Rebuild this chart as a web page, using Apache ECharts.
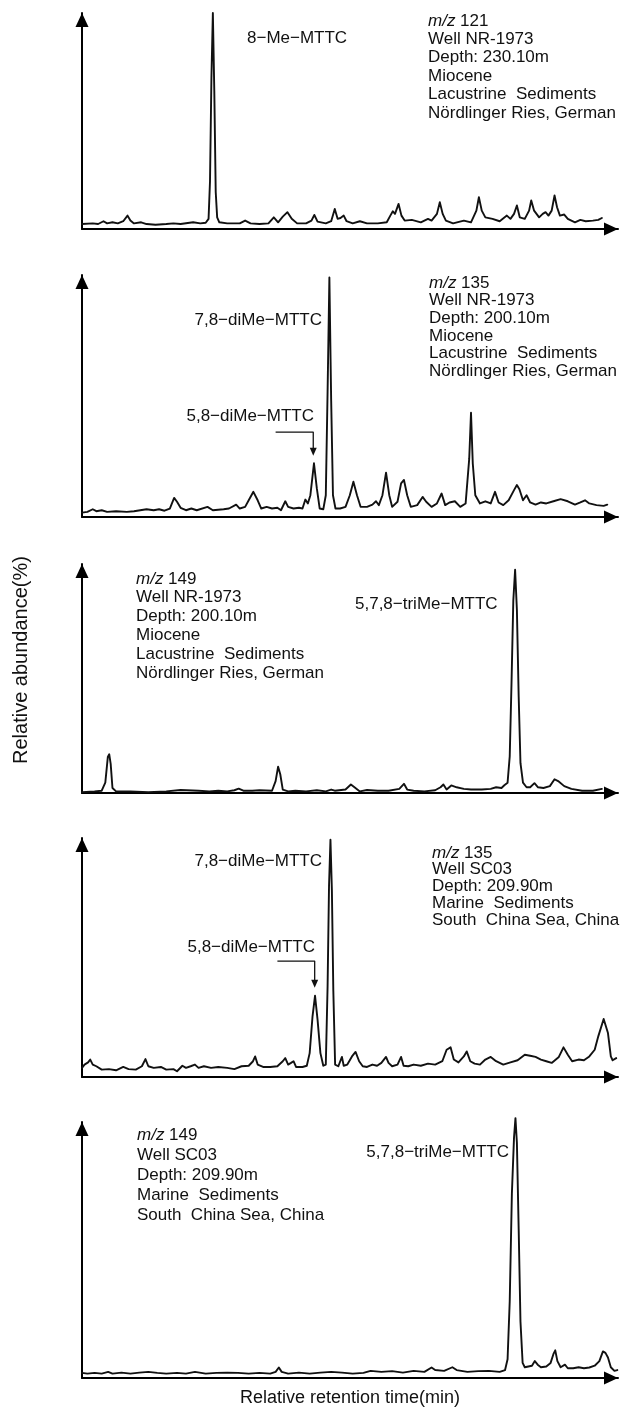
<!DOCTYPE html>
<html><head><meta charset="utf-8">
<script src="https://cdn.jsdelivr.net/npm/echarts@6/dist/echarts.min.js"></script>
<style>html,body{margin:0;padding:0;background:#fff}#c{width:621px;height:1414px}</style>
</head><body><div id="c"></div>
<script>
// ---- DATA: [relative retention, relative abundance %] ----
const trace1 = [[0,2.3],[.030,2.6],[.045,2.3],[.060,3.6],[.070,2.6],[.085,3.1],[.100,2.6],[.115,3.6],[.127,6.2],[.135,3.9],[.145,2.6],[.165,3.1],[.180,2.3],[.205,2.0],[.235,2.3],[.255,2.6],[.275,2.3],[.310,3.1],[.330,2.6],[.345,2.9],[.353,4.7],[.357,22],[.361,70],[.365,100],[.369,64],[.373,17],[.377,5.4],[.383,3.1],[.405,2.6],[.440,2.6],[.455,3.9],[.470,2.6],[.495,2.3],[.520,2.6],[.535,5.4],[.547,3.1],[.560,5.7],[.573,7.8],[.585,4.7],[.600,2.6],[.625,2.6],[.640,3.9],[.648,6.5],[.657,3.4],[.680,2.6],[.695,3.6],[.705,9.3],[.713,4.7],[.721,5.1],[.730,6.2],[.738,3.6],[.755,2.6],[.775,3.6],[.795,2.6],[.825,2.6],[.850,3.1],[.860,6.2],[.867,8.2],[.873,7.0],[.883,11.6],[.891,6.2],[.900,3.9],[.920,4.2],[.945,3.1],[.965,4.7],[.975,3.9],[.990,7.0],[.998,12.4],[1.006,7.0],[1.015,3.9],[1.035,2.6],[1.065,3.9],[1.085,3.1],[1.100,8.5],[1.107,14.7],[1.115,8.5],[1.125,5.4],[1.145,4.7],[1.165,3.6],[1.185,6.2],[1.195,4.7],[1.205,7.0],[1.213,10.9],[1.221,5.4],[1.235,4.7],[1.247,8.5],[1.253,13.2],[1.261,8.5],[1.275,5.4],[1.285,7.0],[1.293,7.8],[1.301,6.2],[1.310,8.5],[1.318,15.5],[1.325,10.1],[1.333,6.2],[1.345,6.7],[1.355,4.7],[1.375,3.1],[1.390,4.2],[1.405,3.6],[1.425,3.9],[1.440,4.2],[1.450,5.1]];

const trace2 = [[0,1.8],[.015,2.1],[.030,3.2],[.040,2.4],[.055,2.8],[.070,2.1],[.095,2.4],[.125,2.1],[.145,2.4],[.180,3.2],[.200,2.8],[.215,3.2],[.230,2.6],[.245,3.5],[.257,7.9],[.265,6.3],[.275,3.8],[.290,2.8],[.305,3.5],[.320,2.8],[.350,4.2],[.365,2.8],[.395,3.2],[.410,3.5],[.430,5.1],[.440,3.5],[.455,4.2],[.465,6.9],[.478,10.4],[.490,6.9],[.500,3.5],[.515,4.2],[.530,3.5],[.545,3.8],[.555,2.8],[.567,6.5],[.575,4.2],[.590,3.5],[.605,3.8],[.615,3.5],[.623,7.2],[.630,5.6],[.637,9.0],[.647,22.2],[.655,11.8],[.663,3.5],[.673,3.2],[.680,9.0],[.685,52],[.690,99],[.695,48],[.700,9.0],[.707,3.5],[.720,3.5],[.735,4.2],[.747,9.0],[.757,14.6],[.767,9.0],[.777,4.2],[.795,4.2],[.810,5.1],[.820,6.5],[.828,4.9],[.838,9.0],[.848,18.3],[.857,9.0],[.865,4.2],[.880,6.3],[.890,13.9],[.898,15.3],[.907,9.0],[.917,4.2],[.935,4.9],[.950,8.3],[.960,6.3],[.975,4.2],[.990,5.6],[1.003,9.7],[1.013,4.9],[1.025,6.0],[1.040,6.5],[1.055,4.2],[1.070,5.6],[1.080,24],[1.085,43.1],[1.090,22],[1.097,9.0],[1.110,5.6],[1.125,6.5],[1.140,5.6],[1.152,10.4],[1.162,6.0],[1.175,4.9],[1.190,6.9],[1.205,11.1],[1.213,13.2],[1.220,11.5],[1.230,6.9],[1.240,9.0],[1.250,6.0],[1.265,5.1],[1.280,6.0],[1.295,5.6],[1.315,6.5],[1.335,7.4],[1.355,6.5],[1.375,5.1],[1.390,6.0],[1.403,6.9],[1.415,5.6],[1.435,4.9],[1.455,4.6],[1.465,5.1]];

const trace3 = [[0,0.4],[.035,0.7],[.055,1.0],[.065,4.5],[.072,15.7],[.076,16.9],[.080,12.7],[.085,2.2],[.095,0.7],[.135,0.7],[.185,0.4],[.235,0.7],[.275,1.3],[.325,1.0],[.355,0.7],[.380,1.0],[.405,0.7],[.425,1.2],[.437,1.9],[.450,1.0],[.475,1.0],[.495,1.2],[.530,1.0],[.540,5.2],[.547,11.5],[.553,8.2],[.560,1.5],[.575,0.7],[.595,1.0],[.625,0.7],[.655,1.2],[.680,0.7],[.695,1.5],[.705,1.0],[.735,1.5],[.750,3.7],[.760,2.5],[.775,0.7],[.795,1.3],[.825,1.0],[.855,1.0],[.885,1.8],[.898,4.0],[.907,1.5],[.925,1.0],[.955,0.7],[.985,1.2],[1.000,2.5],[1.008,3.7],[1.017,1.5],[1.030,3.3],[1.045,2.5],[1.065,1.8],[1.085,1.5],[1.115,1.5],[1.140,1.8],[1.155,2.5],[1.170,2.2],[1.178,3.4],[1.187,4.5],[1.193,16],[1.198,48],[1.203,84],[1.208,97.5],[1.213,80],[1.218,42],[1.223,13],[1.230,4.5],[1.240,2.5],[1.250,2.5],[1.262,4.3],[1.272,2.5],[1.287,2.2],[1.305,3.0],[1.318,6.0],[1.328,5.2],[1.345,3.0],[1.365,1.8],[1.395,1.0],[1.425,1.0],[1.450,1.8]];

const trace4 = [[0,3.8],[.007,5.2],[.017,6.1],[.023,7.3],[.030,5.2],[.040,4.5],[.055,3.1],[.075,3.3],[.095,2.8],[.115,4.2],[.130,3.3],[.150,3.1],[.167,4.5],[.177,7.5],[.185,4.5],[.200,3.8],[.220,4.2],[.235,3.1],[.255,3.3],[.265,2.4],[.280,4.7],[.290,3.8],[.303,4.5],[.315,5.2],[.325,3.8],[.340,4.5],[.360,3.8],[.380,4.2],[.405,3.8],[.425,3.3],[.445,4.5],[.465,4.7],[.477,6.6],[.483,8.6],[.490,5.2],[.505,4.2],[.525,4.2],[.545,4.5],[.560,6.6],[.567,7.9],[.575,5.2],[.583,5.9],[.590,6.6],[.597,4.2],[.615,4.2],[.627,4.7],[.635,10.0],[.643,25.4],[.650,34.0],[.657,24.0],[.665,10.0],[.673,4.7],[.680,5.2],[.685,38],[.689,80],[.693,99.3],[.697,78],[.701,36],[.706,5.2],[.715,4.5],[.725,8.4],[.730,4.7],[.740,5.2],[.753,8.6],[.763,10.5],[.773,6.6],[.783,4.5],[.795,4.2],[.810,5.2],[.823,4.7],[.835,5.9],[.848,8.4],[.855,5.9],[.865,4.5],[.880,5.2],[.890,8.4],[.897,4.7],[.910,4.5],[.925,5.2],[.945,4.7],[.965,5.6],[.985,5.2],[1.005,6.6],[1.017,11.4],[1.028,12.4],[1.037,7.3],[1.050,6.1],[1.065,8.6],[1.073,10.7],[1.083,6.6],[1.095,5.6],[1.110,5.2],[1.125,7.3],[1.140,8.4],[1.155,6.6],[1.175,5.2],[1.195,6.1],[1.215,7.0],[1.235,9.3],[1.250,8.9],[1.265,8.4],[1.280,7.3],[1.295,6.6],[1.310,5.9],[1.330,8.4],[1.343,12.4],[1.355,9.3],[1.367,6.6],[1.385,7.3],[1.400,7.0],[1.415,8.6],[1.430,11.4],[1.440,17.0],[1.455,24.3],[1.467,18.4],[1.475,8.6],[1.480,7.0],[1.490,7.9]];

const trace5 = [[0,2.0],[.015,1.7],[.035,2.0],[.055,1.7],[.073,2.4],[.085,1.7],[.110,2.1],[.135,1.7],[.160,2.1],[.185,2.4],[.210,2.0],[.235,1.7],[.265,2.0],[.290,1.7],[.315,2.4],[.345,1.7],[.375,2.0],[.405,2.1],[.435,2.0],[.465,1.7],[.495,2.0],[.525,1.7],[.540,2.4],[.549,4.1],[.557,2.4],[.575,1.7],[.605,2.1],[.635,1.7],[.665,2.1],[.695,2.4],[.725,2.1],[.755,1.7],[.785,2.0],[.805,2.8],[.835,2.4],[.865,2.7],[.895,2.1],[.925,2.8],[.955,2.4],[.975,4.1],[.985,3.1],[1.010,2.8],[1.033,4.2],[1.045,3.1],[1.075,2.4],[1.105,2.7],[1.135,2.8],[1.165,2.4],[1.180,3.1],[1.187,7.3],[1.193,30],[1.199,72],[1.205,94],[1.209,101.5],[1.213,92],[1.218,58],[1.223,22],[1.229,5.9],[1.235,4.2],[1.245,4.5],[1.255,4.8],[1.263,6.6],[1.271,5.2],[1.280,4.2],[1.295,4.5],[1.307,5.9],[1.315,9.4],[1.320,10.8],[1.326,6.6],[1.335,4.2],[1.347,5.2],[1.355,3.8],[1.370,3.8],[1.385,4.2],[1.400,3.8],[1.415,4.1],[1.430,4.8],[1.443,6.6],[1.453,10.4],[1.460,9.8],[1.467,8.0],[1.475,4.2],[1.485,2.8],[1.493,3.1]];

// annotation arrows (5,8-diMe-MTTC), in data units
const pointer2 = [[.540,35.1],[.645,35.1],[.645,27]];
const pointer4 = [[.545,48.5],[.649,48.5],[.649,39]];

// text content
const info1 = ['121','Well NR-1973','Depth: 230.10m','Miocene','Lacustrine  Sediments','Nördlinger Ries, German'];
const info2 = ['135','Well NR-1973','Depth: 200.10m','Miocene','Lacustrine  Sediments','Nördlinger Ries, German'];
const info3 = ['149','Well NR-1973','Depth: 200.10m','Miocene','Lacustrine  Sediments','Nördlinger Ries, German'];
const info4 = ['135','Well SC03','Depth: 209.90m','Marine  Sediments','South  China Sea, China'];
const info5 = ['149','Well SC03','Depth: 209.90m','Marine  Sediments','South  China Sea, China'];
const yTitle = 'Relative abundance(%)';
const xTitle = 'Relative retention time(min)';

// ---- LAYOUT ----
const FONT = '"Liberation Sans", Arial, Helvetica, sans-serif';
const FS = 17;
const panels = [
  {top:13,  bottom:229,  trace:trace1, info:info1, infoX:428, infoY:21,  step:18.4,
   labels:[{t:'8−Me−MTTC', x:247, y:38, a:'left'}]},
  {top:275, bottom:517,  trace:trace2, info:info2, infoX:429, infoY:283, step:17.7, pointer:pointer2,
   labels:[{t:'7,8−diMe−MTTC', x:322, y:320, a:'right'},{t:'5,8−diMe−MTTC', x:314, y:416, a:'right'}]},
  {top:564, bottom:793,  trace:trace3, info:info3, infoX:136, infoY:579, step:18.8,
   labels:[{t:'5,7,8−triMe−MTTC', x:355, y:604, a:'left'}]},
  {top:838, bottom:1077, trace:trace4, info:info4, infoX:432, infoY:853, step:16.8, pointer:pointer4,
   labels:[{t:'7,8−diMe−MTTC', x:322, y:861, a:'right'},{t:'5,8−diMe−MTTC', x:315, y:947, a:'right'}]},
  {top:1122,bottom:1378, trace:trace5, info:info5, infoX:137, infoY:1135, step:20,
   labels:[{t:'5,7,8−triMe−MTTC', x:509, y:1152, a:'right'}]}
];

const grid=[], xAxis=[], yAxis=[], series=[], graphic=[];
const axisLineStyle = {color:'#000', width:2};
panels.forEach((p,i)=>{
  grid.push({left:82, right:3, top:p.top, height:p.bottom-p.top, containLabel:false});
  xAxis.push({type:'value', gridIndex:i, min:0, max:1.495, axisLabel:{show:false}, axisTick:{show:false}, splitLine:{show:false},
    axisLine:{show:true, onZero:false, lineStyle:axisLineStyle, symbol:['none','triangle'], symbolSize:[13,14], symbolOffset:[0,-7]}});
  yAxis.push({type:'value', gridIndex:i, min:0, max:100, axisLabel:{show:false}, axisTick:{show:false}, splitLine:{show:false},
    axisLine:{show:true, onZero:false, lineStyle:axisLineStyle, symbol:['none','triangle'], symbolSize:[13,14], symbolOffset:[0,-7]}});
  series.push({type:'line', xAxisIndex:i, yAxisIndex:i, data:p.trace, symbol:'none', clip:false,
    smooth:false, lineStyle:{color:'#111', width:1.9, join:'round', cap:'round'}, silent:true});
  if(p.pointer){
    const d = p.pointer.map((v,k)=> k===p.pointer.length-1 ?
      {value:v, symbol:'path://M0,0 L10,0 L5,11 Z', symbolSize:[7,8], itemStyle:{color:'#111'}} : {value:v});
    series.push({type:'line', xAxisIndex:i, yAxisIndex:i, data:d, symbol:'none', showSymbol:true, clip:false,
      lineStyle:{color:'#111', width:1.3}, itemStyle:{color:'#111'}, silent:true, z:3});
  }
  p.info.forEach((line,k)=>{
    const txt = k===0 ? '{i|m/z} ' + line : line;
    graphic.push({type:'text', x:p.infoX, y:p.infoY + k*p.step, silent:true,
      style:{text:txt, fill:'#111', fontSize:FS, fontFamily:FONT, align:'left', textAlign:'left', verticalAlign:'middle', textVerticalAlign:'middle',
        rich:{i:{fontStyle:'italic', fontSize:FS, fontFamily:FONT, fill:'#111'}}}});
  });
  p.labels.forEach(l=>{
    graphic.push({type:'text', x:l.x, y:l.y, silent:true,
      style:{text:l.t, fill:'#111', fontSize:FS, fontFamily:FONT, align:l.a, textAlign:l.a, verticalAlign:'middle', textVerticalAlign:'middle'}});
  });
});
graphic.push({type:'text', x:21, y:660, rotation:Math.PI/2, silent:true,
  style:{text:yTitle, fill:'#111', fontSize:20, fontFamily:FONT, align:'center', textAlign:'center', verticalAlign:'middle', textVerticalAlign:'middle'}});
graphic.push({type:'text', x:350, y:1398, silent:true,
  style:{text:xTitle, fill:'#111', fontSize:18, fontFamily:FONT, align:'center', textAlign:'center', verticalAlign:'middle', textVerticalAlign:'middle'}});

const chart = echarts.init(document.getElementById('c'), null, {renderer:'canvas'});
chart.setOption({animation:false, backgroundColor:'#fff', grid, xAxis, yAxis, series, graphic});
</script></body></html>
